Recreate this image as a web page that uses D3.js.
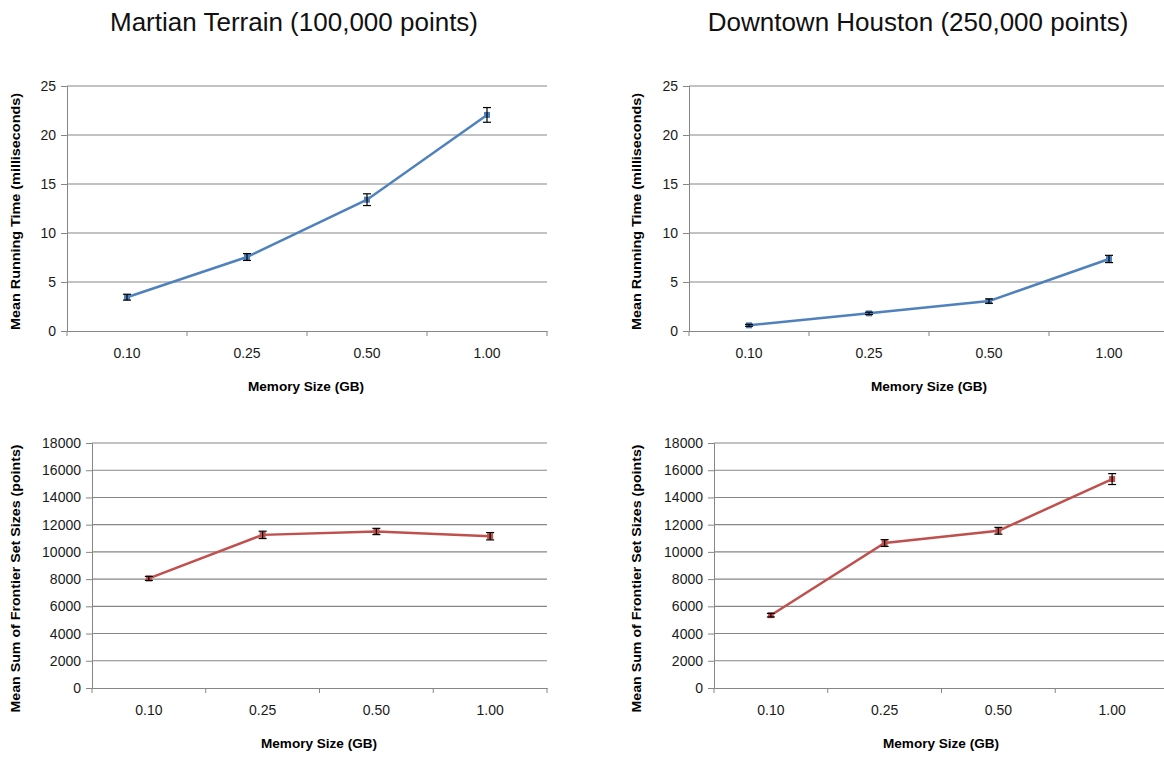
<!DOCTYPE html>
<html>
<head>
<meta charset="utf-8">
<script src="https://cdn.jsdelivr.net/npm/d3@7"></script>
<style>
  body { margin: 0; background: #fff; }
  svg text { font-family: "Liberation Sans", Arial, sans-serif; }
</style>
</head>
<body>
<div id="chart-container"></div>
<script>
// memory sizes on the x axis
const memorySizes = ["0.10", "0.25", "0.50", "1.00"];

// Martian Terrain (100,000 points)
const marsTime = [3.45, 7.55, 13.4, 22.05];
const marsTimeErr = [0.3, 0.35, 0.6, 0.75];
const marsFrontier = [8050, 11250, 11500, 11150];
const marsFrontierErr = [150, 270, 230, 270];

// Downtown Houston (250,000 points)
const houstonTime = [0.58, 1.8, 3.05, 7.35];
const houstonTimeErr = [0.1, 0.12, 0.22, 0.37];
const houstonFrontier = [5350, 10650, 11550, 15350];
const houstonFrontierErr = [130, 250, 250, 400];

const timeTicks = [0, 5, 10, 15, 20, 25];
const frontierTicks = [0, 2000, 4000, 6000, 8000, 10000, 12000, 14000, 16000, 18000];

const titles = ["Martian Terrain (100,000 points)", "Downtown Houston (250,000 points)"];

const blue = "#4f81bd", red = "#c0504d", gridColor = "#868686";

const svg = d3.select("#chart-container").append("svg")
    .attr("width", 1164)
    .attr("height", 758);

// column titles
svg.append("text").attr("x", 294).attr("y", 31).attr("text-anchor", "middle")
    .attr("font-size", 26).attr("fill", "#111").text(titles[0]);
svg.append("text").attr("x", 918).attr("y", 31).attr("text-anchor", "middle")
    .attr("font-size", 26).attr("fill", "#111").text(titles[1]);

function drawPanel(p) {
    const g = svg.append("g");

    const x = d3.scaleBand().domain(memorySizes).range([p.x0, p.x1]);
    const y = d3.scaleLinear().domain([0, d3.max(p.ticks)]).range([p.yBot, p.yTop]);

    // horizontal gridlines
    g.selectAll(".grid").data(p.ticks.slice(1)).enter().append("line")
        .attr("x1", p.x0).attr("x2", p.x1)
        .attr("y1", d => y(d)).attr("y2", d => y(d))
        .attr("stroke", gridColor).attr("stroke-width", 1.1);

    // y axis
    const yAxis = g.append("g")
        .attr("transform", `translate(${p.x0},0)`)
        .call(d3.axisLeft(y).tickValues(p.ticks).tickSize(6).tickPadding(5).tickFormat(d3.format("d")));
    yAxis.select(".domain").attr("stroke", gridColor);
    yAxis.selectAll(".tick line").attr("stroke", gridColor);
    yAxis.selectAll("text").attr("font-size", 14).attr("fill", "#1a1a1a");

    // x axis: labels at band centers, ticks at band edges
    const xAxis = g.append("g")
        .attr("transform", `translate(0,${p.yBot})`)
        .call(d3.axisBottom(x).tickSize(0).tickPadding(17));
    xAxis.select(".domain").attr("stroke", gridColor);
    xAxis.selectAll("text").attr("font-size", 14).attr("fill", "#1a1a1a");
    const edges = memorySizes.map(d => x(d)).concat([p.x1]);
    g.selectAll(".xedge").data(edges).enter().append("line")
        .attr("x1", d => d).attr("x2", d => d)
        .attr("y1", p.yBot).attr("y2", p.yBot + 5)
        .attr("stroke", gridColor);

    // axis titles
    g.append("text")
        .attr("transform", `translate(${p.yLabelX},${(p.yTop + p.yBot) / 2 + p.yLabelShift}) rotate(-90)`)
        .attr("text-anchor", "middle").attr("dominant-baseline", "middle")
        .attr("font-size", 12).attr("font-weight", "bold").attr("fill", "#000")
        .attr("textLength", p.yLabelLen).attr("lengthAdjust", "spacingAndGlyphs")
        .text(p.yLabel);
    g.append("text")
        .attr("x", p.xLabelX).attr("y", p.xLabelY)
        .attr("text-anchor", "middle").attr("dominant-baseline", "middle")
        .attr("font-size", 12).attr("font-weight", "bold").attr("fill", "#000")
        .attr("textLength", 116).attr("lengthAdjust", "spacingAndGlyphs")
        .text("Memory Size (GB)");

    const pts = memorySizes.map((m, i) => ({
        cx: x(m) + x.bandwidth() / 2, v: p.values[i], e: p.errors[i]
    }));

    // series line
    g.append("path").datum(pts)
        .attr("fill", "none").attr("stroke", p.color).attr("stroke-width", 2.5)
        .attr("d", d3.line().x(d => d.cx).y(d => y(d.v)));

    // markers
    g.selectAll(".mk").data(pts).enter().append("rect")
        .attr("x", d => d.cx - 3).attr("y", d => y(d.v) - 3)
        .attr("width", 6).attr("height", 6).attr("fill", p.color);

    // error bars
    const eb = g.selectAll(".eb").data(pts).enter().append("g").attr("stroke", "#000").attr("stroke-width", 1.2);
    eb.append("line").attr("x1", d => d.cx).attr("x2", d => d.cx)
        .attr("y1", d => y(d.v - d.e)).attr("y2", d => y(d.v + d.e));
    eb.append("line").attr("x1", d => d.cx - 4).attr("x2", d => d.cx + 4)
        .attr("y1", d => y(d.v - d.e)).attr("y2", d => y(d.v - d.e));
    eb.append("line").attr("x1", d => d.cx - 4).attr("x2", d => d.cx + 4)
        .attr("y1", d => y(d.v + d.e)).attr("y2", d => y(d.v + d.e));
}

const timeLabel = "Mean Running Time (milliseconds)";
const frontierLabel = "Mean Sum of Frontier Set Sizes (points)";

drawPanel({ x0: 67, x1: 547, yTop: 86, yBot: 331, ticks: timeTicks, values: marsTime, errors: marsTimeErr,
    color: blue, yLabel: timeLabel, yLabelX: 17, yLabelShift: 3, yLabelLen: 237, xLabelX: 306, xLabelY: 388 });
drawPanel({ x0: 689, x1: 1169, yTop: 86, yBot: 331, ticks: timeTicks, values: houstonTime, errors: houstonTimeErr,
    color: blue, yLabel: timeLabel, yLabelX: 638, yLabelShift: 3, yLabelLen: 237, xLabelX: 929, xLabelY: 388 });
drawPanel({ x0: 92, x1: 547, yTop: 443, yBot: 688, ticks: frontierTicks, values: marsFrontier, errors: marsFrontierErr,
    color: red, yLabel: frontierLabel, yLabelX: 17, yLabelShift: 13, yLabelLen: 268, xLabelX: 319, xLabelY: 745 });
drawPanel({ x0: 714, x1: 1169, yTop: 443, yBot: 688, ticks: frontierTicks, values: houstonFrontier, errors: houstonFrontierErr,
    color: red, yLabel: frontierLabel, yLabelX: 638, yLabelShift: 13, yLabelLen: 268, xLabelX: 941, xLabelY: 745 });
</script>
</body>
</html>
